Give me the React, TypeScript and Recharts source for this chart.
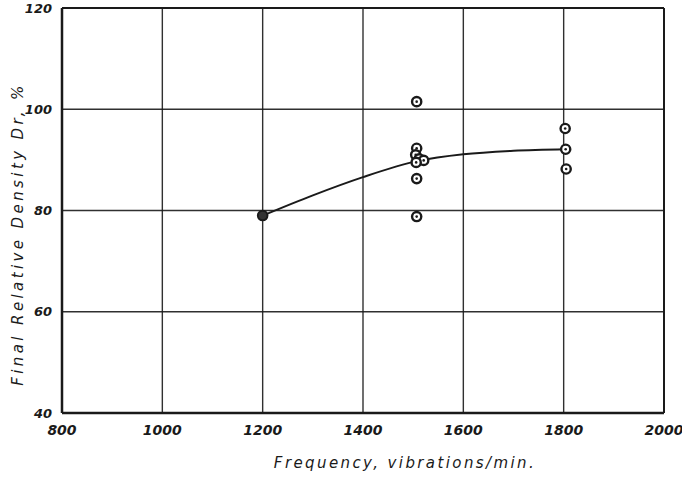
import React from "react";
import {
  ComposedChart, Line, Scatter, XAxis, YAxis, CartesianGrid, ReferenceLine,
} from "recharts";

// measured points, frequency vs final relative density
const points1500 = [
  { x: 1507, y: 101.5 },
  { x: 1507, y: 92.3 },
  { x: 1505, y: 91 },
  { x: 1512, y: 90.2 },
  { x: 1521, y: 89.9 },
  { x: 1506, y: 89.5 },
  { x: 1507, y: 86.3 },
  { x: 1507, y: 78.8 },
];
const points1800 = [
  { x: 1803, y: 96.2 },
  { x: 1804, y: 92.1 },
  { x: 1805, y: 88.2 },
];
const points1200 = [{ x: 1200, y: 79 }];

// hand-drawn trend curve
const curve = [
  { x: 1200, y: 79 },
  { x: 1300, y: 83 },
  { x: 1400, y: 86.6 },
  { x: 1510, y: 89.8 },
  { x: 1600, y: 91.1 },
  { x: 1700, y: 91.8 },
  { x: 1804, y: 92.1 },
];

const xTicks = [800, 1000, 1200, 1400, 1600, 1800, 2000];
const yTicks = [40, 60, 80, 100, 120];

const INK = "#1a1a1a";
const FONT = "'DejaVu Sans', sans-serif";

const Ring = (p: any) => (
  <g>
    <circle cx={p.cx} cy={p.cy} r={4.6} fill="#fff" stroke={INK} strokeWidth={2.4} />
    <circle cx={p.cx} cy={p.cy} r={1.3} fill={INK} />
  </g>
);

const FilledRing = (p: any) => (
  <circle cx={p.cx} cy={p.cy} r={4.8} fill="#333" stroke={INK} strokeWidth={2} />
);

const YTitle = () => (
  <text
    x={0}
    y={0}
    transform="translate(18, 234) rotate(-90)"
    textAnchor="middle"
    dominantBaseline="central"
    fill={INK}
    stroke="none"
    fontSize={15}
    fontStyle="italic"
    fontFamily={FONT}
    letterSpacing={3.4}
  >
    Final Relative Density Dr, %
  </text>
);

export default function App() {
  const all = [...points1500, ...points1800];
  return (
    <div style={{ position: "absolute", left: 0, top: 0, width: 682, height: 478, background: "#fff" }}>
      <ComposedChart width={682} height={478} margin={{ top: 8, right: 18, bottom: 35, left: 22 }}>
        <CartesianGrid stroke={INK} strokeWidth={1.4} strokeOpacity={0.9} />
        <XAxis
          type="number"
          dataKey="x"
          domain={[800, 2000]}
          ticks={xTicks}
          interval={0}
          height={30}
          axisLine={{ stroke: INK, strokeWidth: 2.5 }}
          tickLine={false}
          tick={{ fill: INK, fontSize: 14, fontStyle: "italic", fontWeight: 700, fontFamily: FONT }}
          tickMargin={6}
          label={{
            value: "Frequency, vibrations/min.",
            position: "bottom",
            offset: 14,
            dx: 42,
            fill: INK,
            fontSize: 15,
            fontStyle: "italic",
            fontFamily: FONT,
            letterSpacing: 2.4,
          }}
        />
        <YAxis
          type="number"
          dataKey="y"
          domain={[40, 120]}
          ticks={yTicks}
          interval={0}
          width={40}
          axisLine={{ stroke: INK, strokeWidth: 2.5 }}
          tickLine={false}
          tick={{ fill: INK, fontSize: 13, fontStyle: "italic", fontWeight: 700, fontFamily: FONT }}
          tickMargin={4}
          label={{ content: YTitle }}
        />
        <ReferenceLine x={2000} stroke={INK} strokeWidth={2} />
        <ReferenceLine y={120} stroke={INK} strokeWidth={2} />
        <Line
          data={curve}
          dataKey="y"
          type="monotone"
          stroke={INK}
          strokeWidth={2}
          dot={false}
          isAnimationActive={false}
        />
        <Scatter data={all} dataKey="y" shape={Ring} isAnimationActive={false} />
        <Scatter data={points1200} dataKey="y" shape={FilledRing} isAnimationActive={false} />
      </ComposedChart>
    </div>
  );
}
